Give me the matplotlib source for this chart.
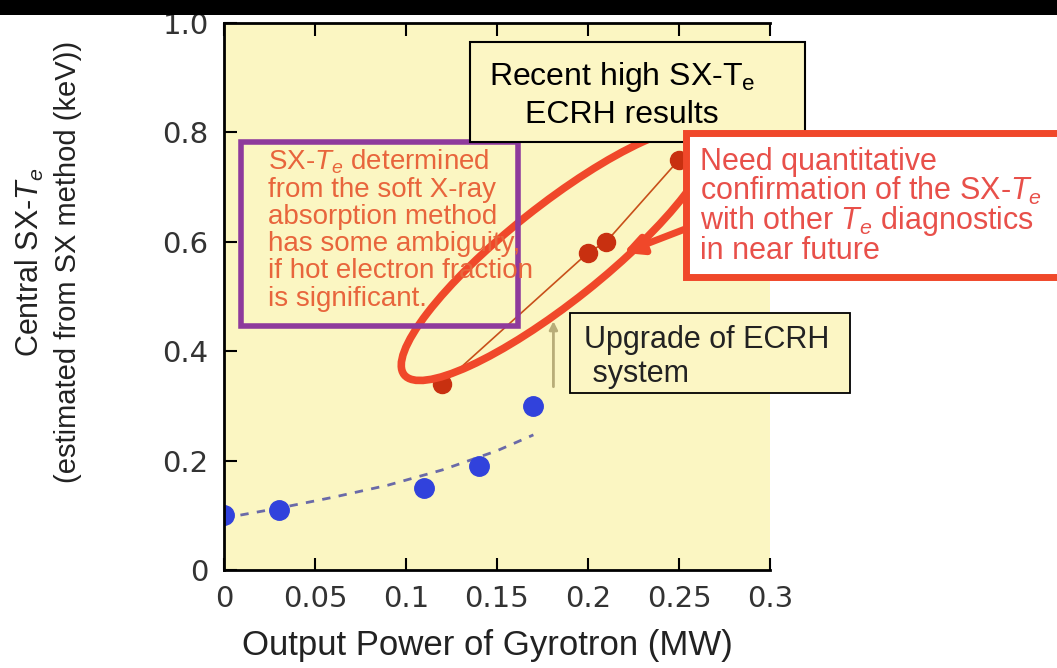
import numpy as np
import matplotlib.pyplot as plt
from matplotlib.patches import Ellipse, Rectangle
from matplotlib.transforms import IdentityTransform

plt.rcParams['font.family'] = ['Liberation Sans', 'DejaVu Sans']
plt.rcParams['mathtext.fontset'] = 'custom'
plt.rcParams['mathtext.rm'] = 'Liberation Sans'
plt.rcParams['mathtext.it'] = 'Liberation Sans:italic'

# earlier ECRH shots (blue)
old_power = [0.0, 0.03, 0.11, 0.14, 0.17]
old_te = [0.10, 0.11, 0.15, 0.19, 0.30]
# dashed trend through the old shots
trend_power = [0.0, 0.03, 0.06, 0.09, 0.12, 0.15, 0.17]
trend_te = [0.095, 0.113, 0.133, 0.155, 0.183, 0.218, 0.247]
# recent high SX-Te results (red)
new_power = [0.12, 0.20, 0.21, 0.25]
new_te = [0.34, 0.58, 0.60, 0.75]

xticks = [0, 0.05, 0.1, 0.15, 0.2, 0.25, 0.3]
xticklabels = ['0', '0.05', '0.1', '0.15', '0.2', '0.25', '0.3']
yticks = [0, 0.2, 0.4, 0.6, 0.8, 1.0]
yticklabels = ['0', '0.2', '0.4', '0.6', '0.8', '1.0']

W, H = 1057, 668
fig = plt.figure(figsize=(W / 100, H / 100), dpi=100)
fig.patch.set_facecolor('white')


def px(x0, y0, x1, y1):
    # figure fraction rect from a pixel box (top-left origin)
    return [x0 / W, 1 - y1 / H, (x1 - x0) / W, (y1 - y0) / H]


def fx(x):
    return x / W


def fy(y):
    return 1 - y / H


def box(x0, y0, x1, y1, **kw):
    r = px(x0, y0, x1, y1)
    fig.patches.append(Rectangle((r[0], r[1]), r[2], r[3],
                                 transform=fig.transFigure, **kw))


ax = fig.add_axes(px(224, 23, 770, 570))
ax.set_facecolor('#fbf6c2')
ax.set_xlim(0, 0.3)
ax.set_ylim(0, 1.0)
ax.set_xticks(xticks)
ax.set_xticklabels(xticklabels, family='DejaVu Sans')
ax.set_yticks(yticks)
ax.set_yticklabels(yticklabels, family='DejaVu Sans')
ax.tick_params(direction='in', length=9, width=1.5, labelsize=21,
               labelcolor='#333333', top=True, pad=11)
for s in ['left', 'bottom', 'top']:
    ax.spines[s].set_linewidth(2)
ax.spines['right'].set_visible(False)

ax.plot(trend_power, trend_te, linestyle=(0, (3, 3)), color='#6a6aa8', lw=2)
ax.plot(old_power, old_te, 'o', color='#3142dc', ms=14, mec='#3142dc')
ax.plot(new_power, new_te, '-', color='#c8501a', lw=1.2)
ax.plot(new_power, new_te, 'o', color='#c83010', ms=13, mec='#c83010')

# gray upgrade arrow
ax.annotate('', xy=(0.181, 0.46), xytext=(0.181, 0.33),
            arrowprops=dict(arrowstyle='-|>', color='#b8ad78', lw=2,
                            mutation_scale=12))

# red ellipse around recent results (in pixel space)
ell = Ellipse((556, H - 254), 388, 96, angle=38.5, transform=IdentityTransform(),
              fill=False, edgecolor='#f0482a', lw=5.5, zorder=5)
ax.add_artist(ell)

# purple box
box(241, 142, 518, 326, fill=False, edgecolor='#8e3a9c', lw=4, zorder=6)
fig.text(fx(268), fy(147),
         'SX-$T_e$ determined\nfrom the soft X-ray\nabsorption method\n'
         'has some ambiguity,\nif hot electron fraction\nis significant.',
         color='#e8653c', fontsize=20, va='top', ha='left', linespacing=1.06,
         zorder=7)

# recent results box
box(470, 42, 805, 142, fc='#fcf6c4', ec='black', lw=1.5, zorder=8)
fig.text(fx(622), fy(95), 'Recent high SX-T$_\\mathrm{e}$\nECRH results',
         fontsize=23, ha='center', va='center', linespacing=1.3, zorder=9)

# red box (clipped at right edge)
box(686, 133, 1076, 277, fc='white', ec='#f0482a', lw=5, zorder=9)
fig.text(fx(700), fy(147),
         'Need quantitative\nconfirmation of the SX-$T_e$\n'
         'with other $T_e$ diagnostics\nin near future',
         color='#e8504a', fontsize=22, ha='left', va='top', linespacing=0.9,
         zorder=10)

# red arrow from the box to the ellipse
ax.annotate('', xy=(0.218, 0.578), xytext=(0.257, 0.628),
            arrowprops=dict(arrowstyle='-|>', color='#f0482a', lw=5,
                            mutation_scale=28), zorder=11)

# upgrade box
box(570, 313, 850, 393, fc='#fcf6c4', ec='black', lw=1.3, zorder=8)
fig.text(fx(584), fy(357), 'Upgrade of ECRH\n system',
         fontsize=22, ha='left', va='center', linespacing=1.18, color='#222222',
         zorder=9)

fig.text(fx(487), fy(645), 'Output Power of Gyrotron (MW)', fontsize=25,
         ha='center', va='center', color='#222222')
fig.text(fx(30), fy(262), 'Central SX-$T_e$', rotation=90, fontsize=22,
         ha='center', va='center', color='#222222')
fig.text(fx(68), fy(262), '(estimated from SX method (keV))', rotation=90,
         fontsize=21, ha='center', va='center', color='#222222')

# dark band along the top
box(0, 0, W, 15, fc='black', ec='none', zorder=20)

fig.savefig('out.png', dpi=100)
